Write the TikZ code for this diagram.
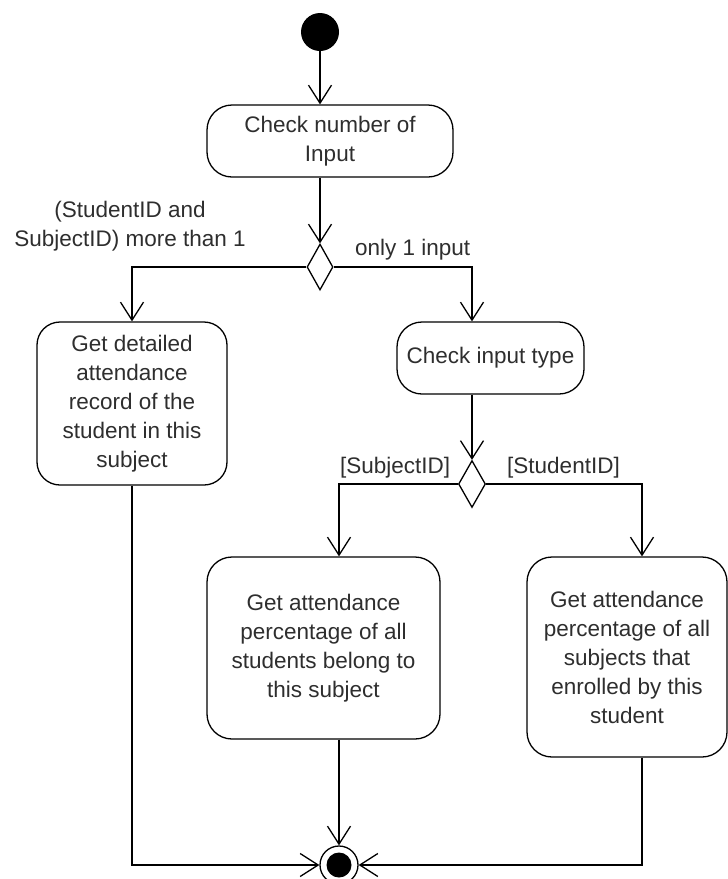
\documentclass[tikz,border=0pt]{standalone}
\usepackage{fontspec}
\setmainfont{Liberation Sans}
\usetikzlibrary{arrows.meta,shapes.geometric}

\begin{document}
\begin{tikzpicture}[x=1pt,y=-1pt,
  every node/.style={font=\fontsize{22.5}{29}\selectfont, text=black!82},
  act/.style={draw=black, rounded corners=25pt, align=center, inner sep=0pt, line width=1.3pt},
  choice/.style={diamond, draw=black, inner sep=0pt, line width=1.3pt, minimum width=26pt, minimum height=46pt},
  flow/.style={draw=black, line width=1.3pt, -{Straight Barb[length=18pt,width=23pt,line width=1.3pt]}},
  guard/.style={inner sep=0pt, anchor=base west}
]
\useasboundingbox (0,0) rectangle (728,879);

% initial and final nodes
\node[circle, fill=black, minimum size=38pt, inner sep=0pt] (start) at (320,32) {};
\node[circle, draw=black, line width=1.3pt, minimum size=38pt, inner sep=0pt,
      path picture={\fill[black] (path picture bounding box.center) circle (12.5pt);}] (end) at (339,865) {};

% actions
\node[act, minimum width=246pt, minimum height=72pt] (b1) at (330,141) {Check number of\\Input};
\node[act, minimum width=190pt, minimum height=163pt, rounded corners=23pt] (b2) at (132,403.5)
  {Get detailed\\attendance\\record of the\\student in this\\subject};
\node[act, minimum width=187pt, minimum height=72pt] (b3) at (490.5,358) {Check input type};
\node[act, minimum width=233pt, minimum height=182pt] (b4) at (323.5,648)
  {Get attendance\\percentage of all\\students belong to\\this subject};
\node[act, minimum width=200pt, minimum height=200pt] (b5) at (627,657)
  {Get attendance\\percentage of all\\subjects that\\enrolled by this\\student};
\coordinate (c5) at (642,700);

% decisions
\node[choice] (d1) at (320,267) {};
\node[choice, minimum width=27pt, minimum height=47pt] (d2) at (472,484) {};

% guards
\node[inner sep=0pt, align=center] (g1) at (130,226.5) {(StudentID and\\SubjectID) more than 1};
\node[guard] (g2) at (355,255) {only 1 input};
\node[guard] (g3) at (340,473) {[SubjectID]};
\node[guard] (g4) at (507,473) {[StudentID]};

% control flows
\draw[flow] (start) -- (start |- b1.north);
\draw[flow] (d1 |- b1.south) -- (d1.north);
\draw[flow] (d1.west) -| (b2.north);
\draw[flow] (d1.east) -| (d2 |- b3.north);
\draw[flow] (d2 |- b3.south) -- (d2.north);
\draw[flow] (d2.west) -| (end |- b4.north);
\draw[flow] (d2.east) -| (c5 |- b5.north);
\draw[flow] (end |- b4.south) -- (end.north);
\draw[flow] (b2.south) |- (end.west);
\draw[flow] (c5 |- b5.south) |- (end.east);
\end{tikzpicture}
\end{document}
